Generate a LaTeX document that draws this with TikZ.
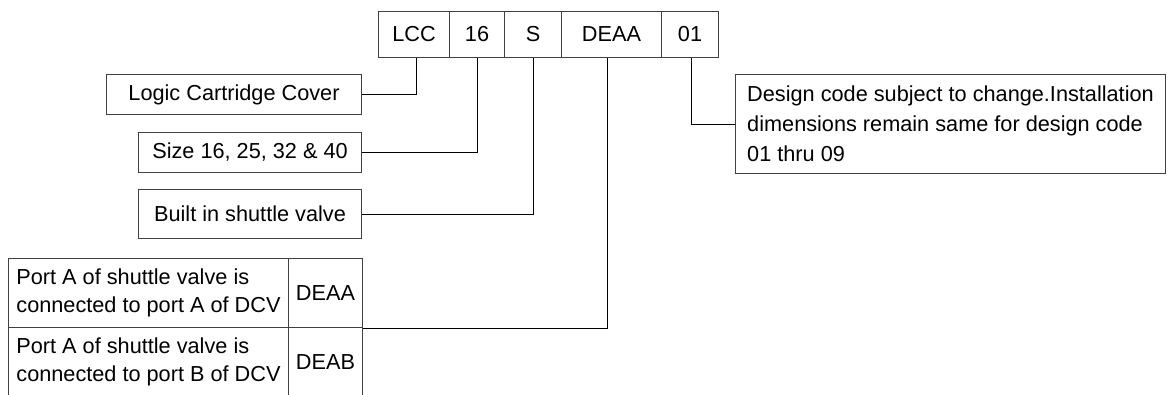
\documentclass[tikz,border=0pt]{standalone}
\usepackage{fontspec}
\setmainfont{Liberation Sans}
\begin{document}
\begin{tikzpicture}[x=1pt,y=-1pt,
  every node/.style={font=\fontsize{21.7}{28}\selectfont, inner sep=0pt, text=black},
  cellbox/.style={draw=black!75, line width=1pt, anchor=north west, minimum height=46pt},
  lblbox/.style={draw=black!75, line width=1pt, anchor=north west},
  link/.style={draw=black, line width=1pt}]
\clip (0,0) rectangle (1169,394);
\fill[white] (0,0) rectangle (1169,394);
% code cells
\node[cellbox, minimum width=71pt] (cLCC) at (378,11) {LCC};
\node[cellbox, minimum width=55pt] (cSize) at (449,11) {16};
\node[cellbox, minimum width=57pt] (cS) at (504,11) {S};
\node[cellbox, minimum width=100pt] (cDEAA) at (561,11) {DEAA};
\node[cellbox, minimum width=57pt] (cDes) at (661,11) {01};
% label boxes
\node[lblbox, minimum width=255pt, minimum height=40pt] (logic) at (106,74) {Logic Cartridge Cover};
\node[lblbox, minimum width=223pt, minimum height=40pt] (sizes) at (138,132) {Size 16, 25, 32 \& 40};
\node[lblbox, minimum width=223pt, minimum height=49pt] (built) at (138,189) {Built in shuttle valve};
\node[lblbox, minimum width=430pt, minimum height=99pt, align=left,
      font=\fontsize{21.7}{30}\selectfont] (design) at (735,74)
  {Design code subject to change.Installation\\dimensions remain same for design code\\01 thru 09};
% table
\node[lblbox, minimum width=280pt, minimum height=69pt, align=left] (r1t) at (8,258)
  {Port A of shuttle valve is\\connected to port A of DCV};
\node[lblbox, minimum width=74pt, minimum height=69pt] (r1c) at (288,258) {DEAA};
\node[lblbox, minimum width=280pt, minimum height=69pt, align=left] (r2t) at (8,327)
  {Port A of shuttle valve is\\connected to port B of DCV};
\node[lblbox, minimum width=74pt, minimum height=69pt] (r2c) at (288,327) {DEAB};
% connectors
\draw[link] ([xshift=2.5pt]cLCC.south) |- (logic.east);
\draw[link] (cSize.south) |- (sizes.east);
\draw[link] (cS.south) |- (built.east);
\draw[link] ([xshift=-4pt]cDEAA.south) |- (r1c.south east);
\draw[link] ([xshift=1.5pt]cDes.south) |- (design.west);
\end{tikzpicture}
\end{document}
